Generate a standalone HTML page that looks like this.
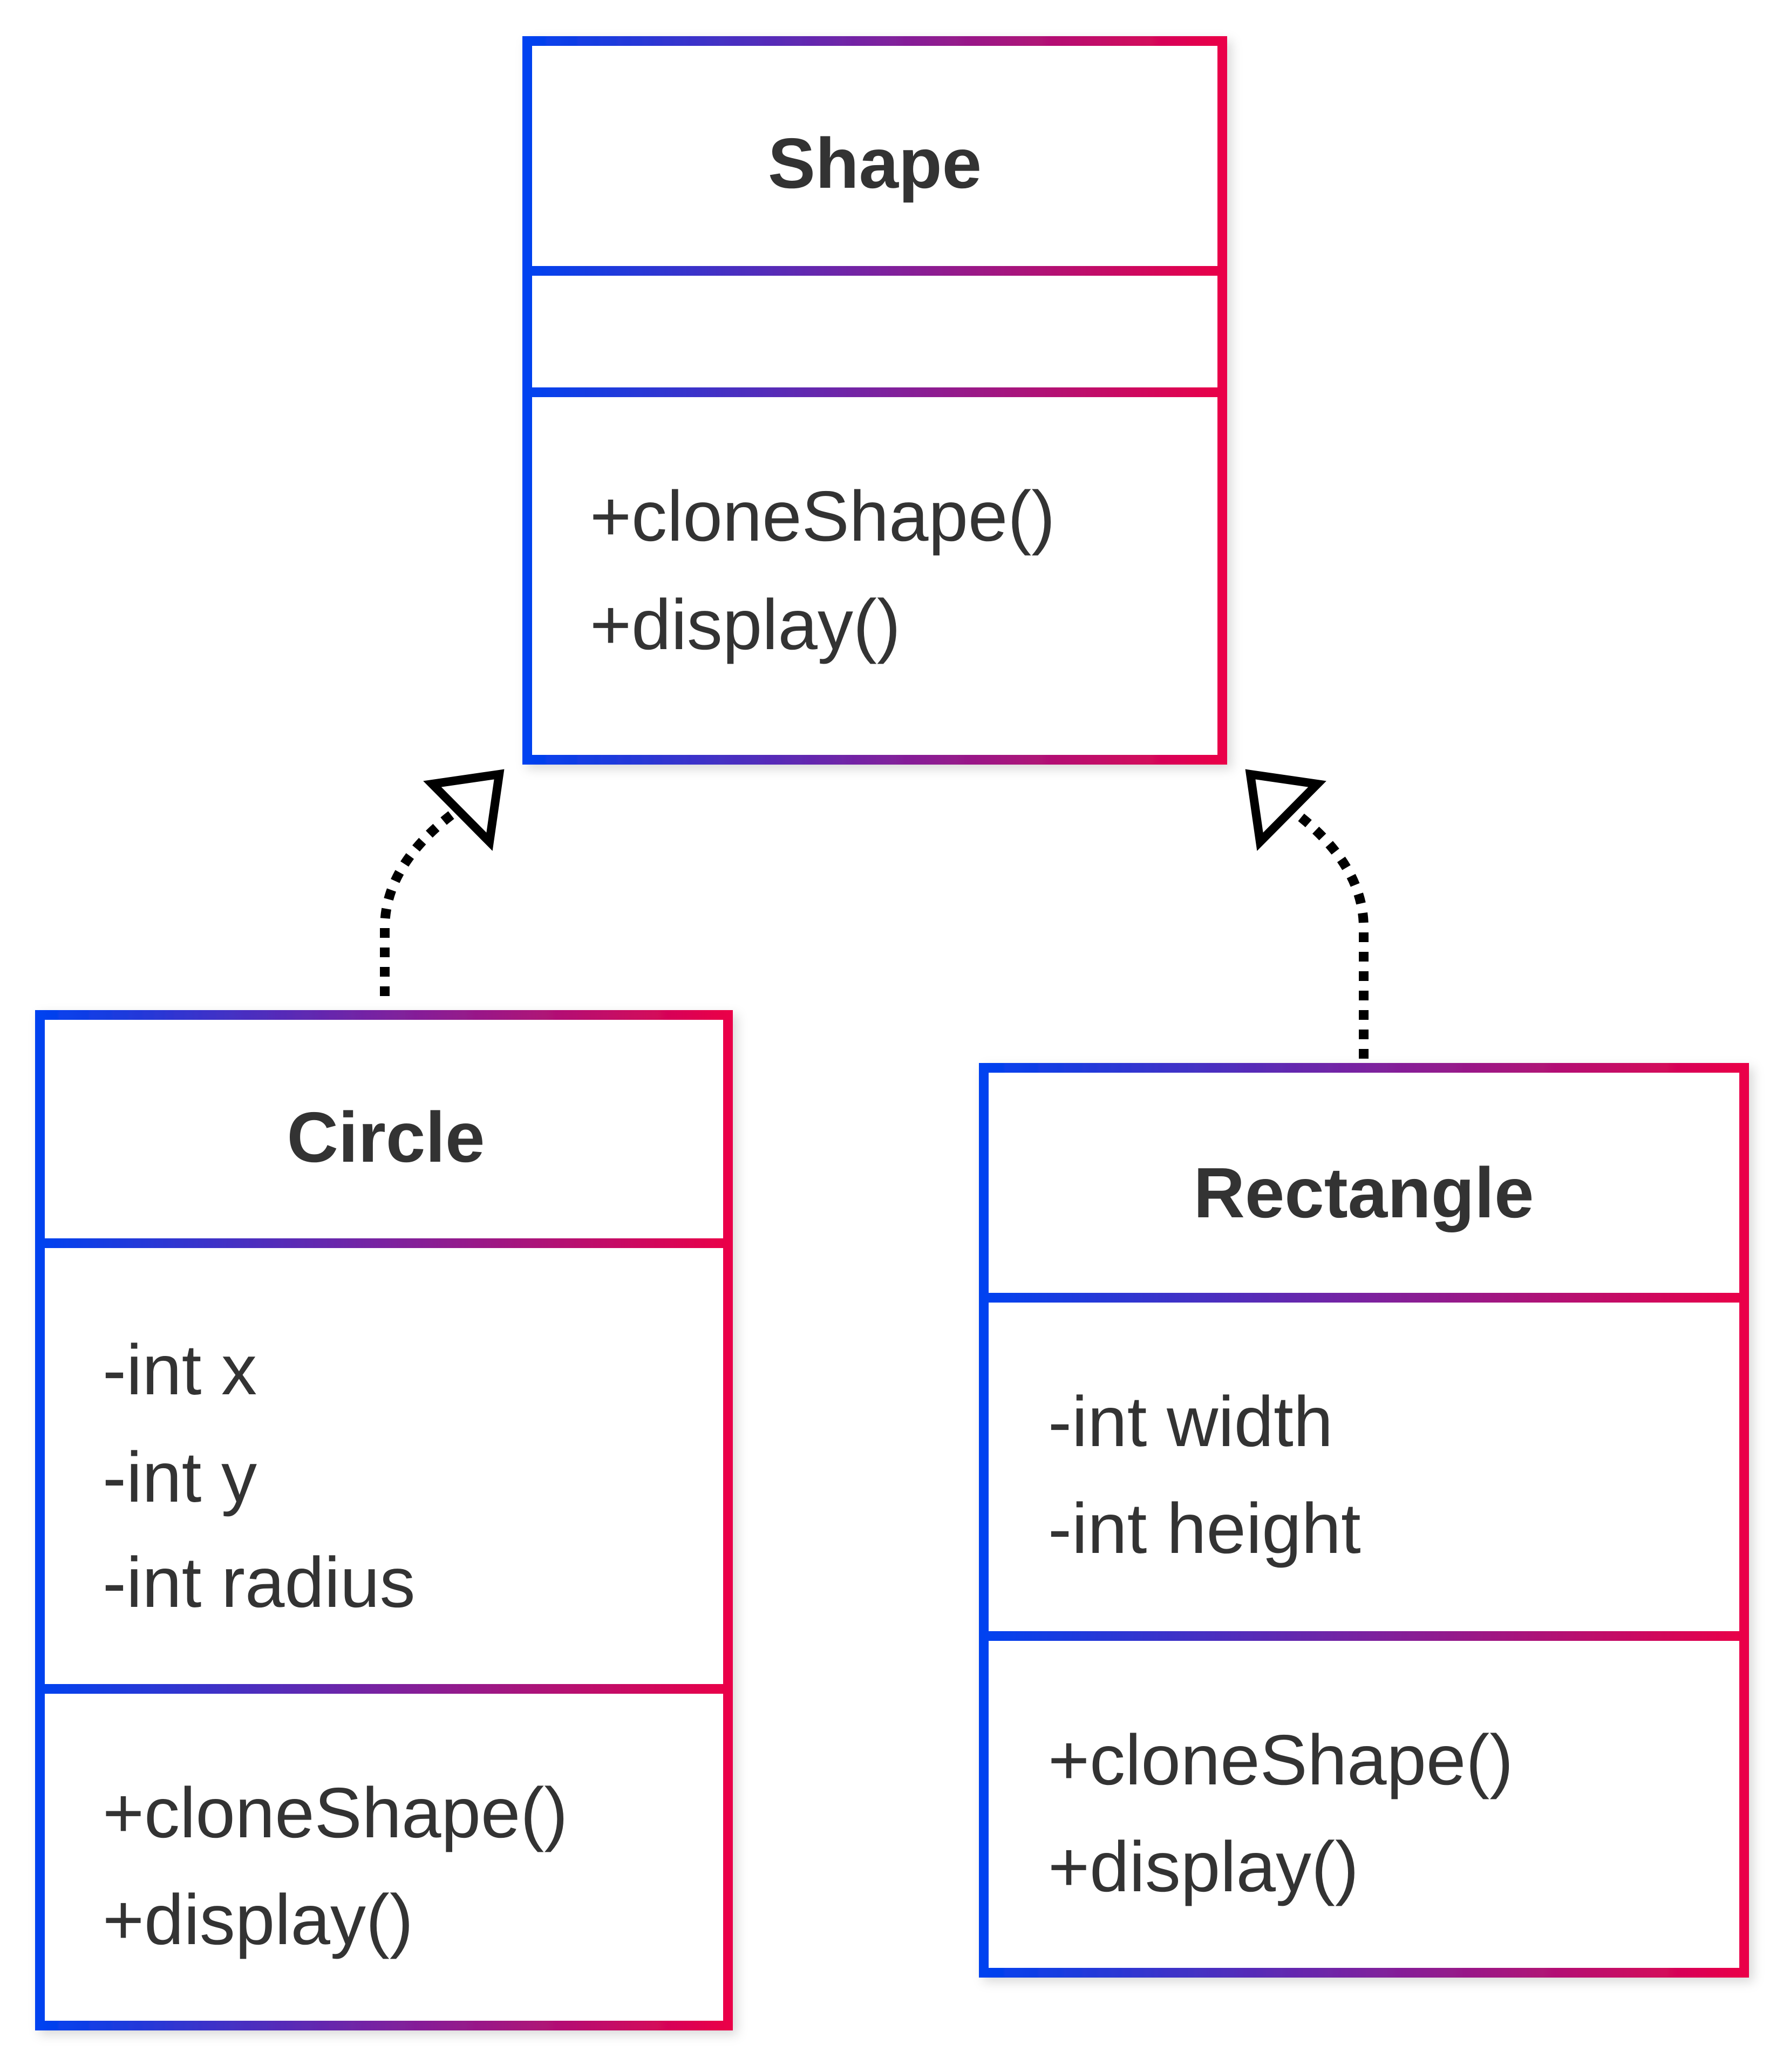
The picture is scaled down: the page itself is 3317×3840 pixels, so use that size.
<!DOCTYPE html>
<html><head><meta charset="utf-8"><style>
html,body{margin:0;padding:0;background:#fff;}
svg{display:block;}
text{font-family:"Liberation Sans",Arial,sans-serif;fill:#333;}
</style></head><body>
<svg width="3317" height="3840" viewBox="0 0 3317 3840" xmlns="http://www.w3.org/2000/svg">
<defs>
<linearGradient id="g1" gradientUnits="userSpaceOnUse" x1="977" y1="0" x2="2265" y2="0"><stop offset="0" stop-color="#0042f0"/><stop offset="0.5" stop-color="#7a22a0"/><stop offset="1" stop-color="#ea0048"/></linearGradient>
<linearGradient id="g2" gradientUnits="userSpaceOnUse" x1="74" y1="0" x2="1349" y2="0"><stop offset="0" stop-color="#0042f0"/><stop offset="0.5" stop-color="#7a22a0"/><stop offset="1" stop-color="#ea0048"/></linearGradient>
<linearGradient id="g3" gradientUnits="userSpaceOnUse" x1="1823" y1="0" x2="3232" y2="0"><stop offset="0" stop-color="#0042f0"/><stop offset="0.5" stop-color="#7a22a0"/><stop offset="1" stop-color="#ea0048"/></linearGradient>
<filter id="sh" x="-10%" y="-10%" width="120%" height="120%"><feDropShadow dx="8" dy="8" stdDeviation="10" flood-color="#000" flood-opacity="0.15"/></filter>
</defs>

<g stroke="url(#g1)" stroke-width="18" fill="#fff">
<rect x="977" y="76" width="1288" height="1332" filter="url(#sh)"/>
<line x1="977" y1="502" x2="2265" y2="502"/>
<line x1="977" y1="727" x2="2265" y2="727"/>
</g>
<text x="1621" y="348" font-size="132" font-weight="bold" text-anchor="middle">Shape</text>
<text x="1093" y="1002" font-size="132">+cloneShape()</text>
<text x="1093" y="1203" font-size="132">+display()</text>

<g stroke="url(#g2)" stroke-width="18" fill="#fff">
<rect x="74" y="1881" width="1275" height="1873" filter="url(#sh)"/>
<line x1="74" y1="2304" x2="1349" y2="2304"/>
<line x1="74" y1="3130" x2="1349" y2="3130"/>
</g>
<text x="715" y="2153" font-size="132" font-weight="bold" text-anchor="middle">Circle</text>
<text x="190" y="2584" font-size="132">-int x</text>
<text x="190" y="2783" font-size="132">-int y</text>
<text x="190" y="2978" font-size="132">-int radius</text>
<text x="190" y="3405" font-size="132">+cloneShape()</text>
<text x="190" y="3603" font-size="132">+display()</text>

<g stroke="url(#g3)" stroke-width="18" fill="#fff">
<rect x="1823" y="1979" width="1409" height="1677" filter="url(#sh)"/>
<line x1="1823" y1="2405" x2="3232" y2="2405"/>
<line x1="1823" y1="3032" x2="3232" y2="3032"/>
</g>
<text x="2527" y="2256" font-size="132" font-weight="bold" text-anchor="middle">Rectangle</text>
<text x="1942" y="2680" font-size="132">-int width</text>
<text x="1942" y="2878" font-size="132">-int height</text>
<text x="1942" y="3307" font-size="132">+cloneShape()</text>
<text x="1942" y="3505" font-size="132">+display()</text>

<g fill="none" stroke="#000" stroke-width="18" stroke-dasharray="18 18">
<path d="M713,1846 L713,1720 Q713,1600 850,1500"/>
<path d="M2527,1962 L2527,1720 Q2527,1600 2392,1500"/>
</g>
<g fill="#fff" stroke="#000" stroke-width="16" stroke-linejoin="miter">
<polygon points="925,1435 801,1453 907,1560"/>
<polygon points="2317,1435 2441,1453 2335,1560"/>
</g>
</svg>
</body></html>
